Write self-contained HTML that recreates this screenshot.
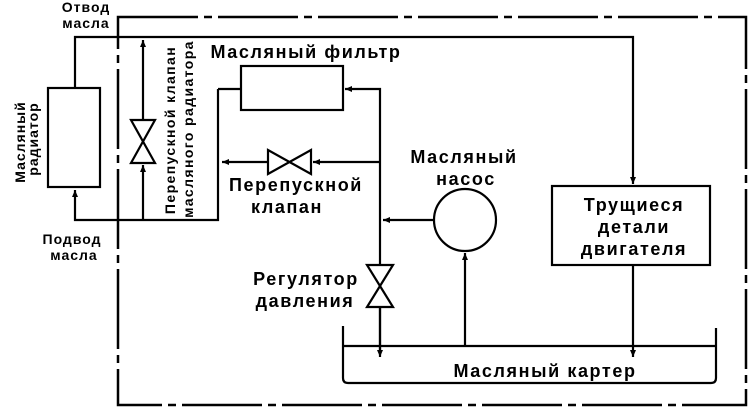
<!DOCTYPE html>
<html><head><meta charset="utf-8"><style>
html,body{margin:0;padding:0;background:#fff;}
svg{display:block;}
text{font-family:"Liberation Sans","DejaVu Sans",sans-serif;font-weight:bold;fill:#000;}
</style></head><body>
<svg width="750" height="414" viewBox="0 0 750 414" xmlns="http://www.w3.org/2000/svg">
<defs>
<marker id="a" markerWidth="8" markerHeight="8" refX="7" refY="4" orient="auto" markerUnits="userSpaceOnUse">
<path d="M0,1 L7,4 L0,7 Z" fill="#000"/></marker>
</defs>
<g stroke="#000" fill="none" stroke-width="2.2">
<path d="M118,17 L746,17 L746,405 L118,405 Z" stroke-dasharray="80,6,8,6" stroke-width="2.5"/>
<path d="M75,88 L75,37 L633,37 L633,184" marker-end="url(#a)"/>
<rect x="48" y="88" width="52" height="99"/>
<path d="M218,89 L218,220 L75,220 L75,190" marker-end="url(#a)"/>
<line x1="218" y1="89" x2="241" y2="89"/>
<path d="M143,220 L143,165" marker-end="url(#a)"/>
<path d="M143,120 L143,40" marker-end="url(#a)"/>
<path d="M131,120 L155,120 L131,163 L155,163 Z"/>
<rect x="241" y="66" width="102" height="44"/>
<path d="M380,350 L380,89 L345,89" marker-end="url(#a)"/>
<path d="M380,162 L313,162" marker-end="url(#a)"/>
<path d="M268,162 L222,162" marker-end="url(#a)"/>
<path d="M268,150 L268,174 L311,150 L311,174 Z"/>
<circle cx="465" cy="220" r="31"/>
<path d="M434,220 L383,220" marker-end="url(#a)"/>
<path d="M465,346 L465,253" marker-end="url(#a)"/>
<path d="M367,265 L393,265 L367,307 L393,307 Z" fill="#fff"/>
<path d="M380,307 L380,357" marker-end="url(#a)"/>
<rect x="552" y="186" width="158" height="79"/>
<path d="M633,265 L633,357" marker-end="url(#a)"/>
<path d="M343,326 L343,378 Q343,383 348,383 L711,383 Q716,383 716,378 L716,328"/>
<line x1="343" y1="346" x2="716" y2="346"/>
</g>
<g font-size="14" letter-spacing="1">
<text x="86" y="12" text-anchor="middle">Отвод</text>
<text x="86" y="28" text-anchor="middle">масла</text>
<text x="72" y="244" text-anchor="middle">Подвод</text>
<text x="74" y="260" text-anchor="middle">масла</text>
<text transform="translate(25,142) rotate(-90)" text-anchor="middle">Масляный</text>
<text transform="translate(38,139) rotate(-90)" text-anchor="middle">радиатор</text>
<text transform="translate(175,130) rotate(-90)" text-anchor="middle" letter-spacing="1.4">Перепускной клапан</text>
<text transform="translate(193,129) rotate(-90)" text-anchor="middle" letter-spacing="1.4">масляного радиатора</text>
</g>
<g font-size="18" letter-spacing="1.6">
<text x="306" y="58" text-anchor="middle">Масляный фильтр</text>
<text x="296" y="191" text-anchor="middle">Перепускной</text>
<text x="287" y="213" text-anchor="middle">клапан</text>
<text x="464" y="163" text-anchor="middle">Масляный</text>
<text x="466" y="185" text-anchor="middle">насос</text>
<text x="306" y="285" text-anchor="middle">Регулятор</text>
<text x="305" y="307" text-anchor="middle">давления</text>
<text x="634" y="211" text-anchor="middle">Трущиеся</text>
<text x="634" y="233" text-anchor="middle">детали</text>
<text x="634" y="255" text-anchor="middle">двигателя</text>
<text x="545" y="377" text-anchor="middle">Масляный картер</text>
</g>
</svg>
</body></html>
